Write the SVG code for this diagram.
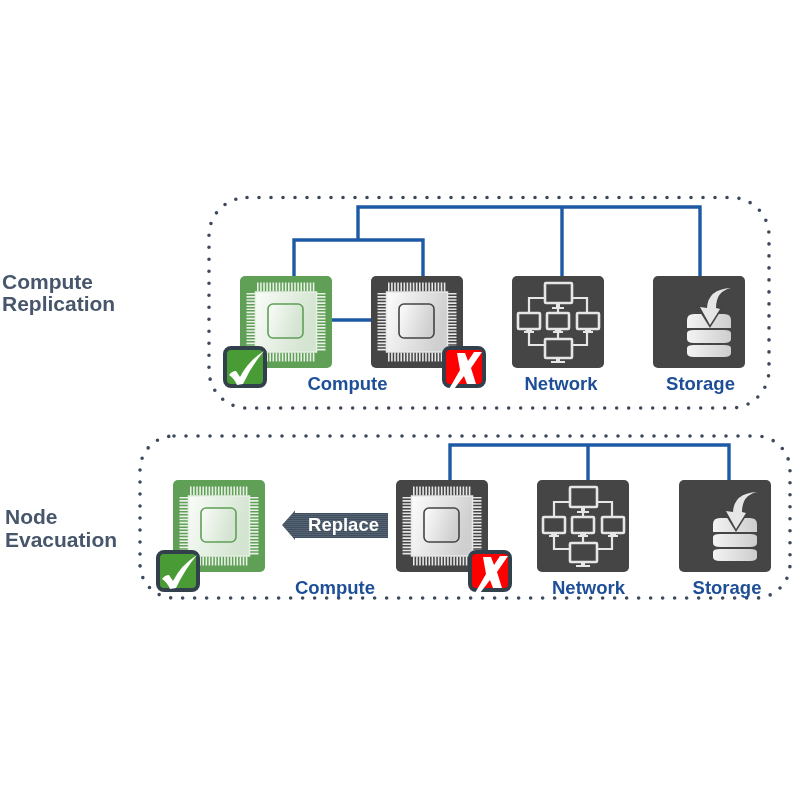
<svg xmlns="http://www.w3.org/2000/svg" width="800" height="800" viewBox="0 0 800 800">
<style>
.lbl{font-family:"Liberation Sans",Arial,sans-serif;font-weight:700;font-size:18.500px;fill:#1f4f97;text-anchor:middle}
.side{font-family:"Liberation Sans",Arial,sans-serif;font-weight:700;font-size:21px;fill:#46566a}
.link{fill:none;stroke:#1f5aa6;stroke-width:3.400}
.dots{fill:none;stroke:#3c4a5a;stroke-width:3.600;stroke-linecap:round;stroke-dasharray:0 12}
.pins{fill:none;stroke-width:9;stroke-dasharray:1.600 1.500}
.mon{fill:#444;stroke:#e6e6e6;stroke-width:2.600}
.wire{fill:none;stroke:#e6e6e6;stroke-width:2.200}
.stand{fill:#e6e6e6}
</style>
<defs>
<filter id="soft" x="0" y="0" width="800" height="800" filterUnits="userSpaceOnUse"><feGaussianBlur stdDeviation="0.450"/></filter>
<linearGradient id="dieG" x1="0" y1="0" x2="1" y2="0.3"><stop offset="0" stop-color="#fafcf9"/><stop offset="1" stop-color="#d3e4d0"/></linearGradient>
<linearGradient id="dieD" x1="0" y1="0" x2="1" y2="0.3"><stop offset="0" stop-color="#fdfdfd"/><stop offset="1" stop-color="#cfcfcf"/></linearGradient>
<linearGradient id="disc" x1="0" y1="0" x2="1" y2="0"><stop offset="0" stop-color="#f4f4f4"/><stop offset="1" stop-color="#cdcdcd"/></linearGradient>
<pattern id="stripe" width="4" height="2" patternUnits="userSpaceOnUse"><rect width="4" height="2" fill="#3f4f61"/><rect width="4" height="0.700" fill="#5e6b7a"/></pattern>
<g id="pinset">
<path class="pins" d="M17 11H75M17 81H75M11 17V75M81 17V75"/>
</g>
<g id="chipG">
<rect width="92" height="92" rx="5" fill="#5f9f57"/>
<use href="#pinset" stroke="#e9f1e6"/>
<rect x="15.500" y="16" width="61" height="60" fill="url(#dieG)" stroke="#e6efe3" stroke-width="1.500"/>
<rect x="28" y="28" width="35" height="34" rx="5" fill="url(#dieG)" stroke="#5f9f57" stroke-width="1.600"/>
</g>
<g id="chipD">
<rect width="92" height="92" rx="5" fill="#444"/>
<use href="#pinset" stroke="#e6e6e6"/>
<rect x="15.500" y="16" width="61" height="60" fill="url(#dieD)" stroke="#e8e8e8" stroke-width="1.500"/>
<rect x="28" y="28" width="35" height="34" rx="5" fill="url(#dieD)" stroke="#444" stroke-width="1.600"/>
</g>
<g id="okBadge">
<rect x="2" y="2" width="40" height="38" rx="6" fill="#4a9c35" stroke="#333f4c" stroke-width="4"/>
<path d="M6 29Q9 25 13 25L17 31Q25 15 41 5Q29 19 20 38L14 39Q11 32 6 29Z" fill="#fff"/>
</g>
<g id="noBadge">
<rect x="2" y="2" width="40" height="38" rx="6" fill="#f00" stroke="#333f4c" stroke-width="4"/>
<path d="M15 7H23L26 15L32 6H40L29 22L34 38H25L22 30L12 43H7L18 24Z" fill="#fff"/>
</g>
<g id="netIcon">
<rect width="92" height="92" rx="5" fill="#444"/>
<path class="wire" d="M33 22H17V37M60 22H75V37M17 57V69H33M75 57V69H60M46 32V37M46 57V63"/>
<rect class="mon" x="33" y="7" width="27" height="20" rx="1"/>
<rect class="mon" x="6" y="37" width="22" height="16" rx="1"/>
<rect class="mon" x="35" y="37" width="22" height="16" rx="1"/>
<rect class="mon" x="65" y="37" width="22" height="16" rx="1"/>
<rect class="mon" x="33" y="63" width="27" height="19" rx="1"/>
<path class="stand" d="M44 27H48V31H52V33H40V31H44ZM14 53H20V55H22V57H12V55H14ZM43 53H49V55H51V57H41V55H43ZM73 53H79V55H81V57H71V55H73ZM44 82H48V85H53V87H39V85H44Z"/>
</g>
<g id="storIcon">
<rect width="92" height="92" rx="5" fill="#444"/>
<path d="M34 44Q34 38 41 38H71Q78 38 78 44V52H34Z" fill="url(#disc)"/>
<path d="M34 57Q34 54 41 54H71Q78 54 78 57V63Q78 67 71 67H41Q34 67 34 63Z" fill="url(#disc)"/>
<path d="M34 72Q34 69 41 69H71Q78 69 78 72V77Q78 81 71 81H41Q34 81 34 77Z" fill="url(#disc)"/>
<path d="M42 28L57 52L72 28Z" fill="#444"/>
<path d="M78 12Q63 15 63 32L67 33L57 49L47 31L54 32Q55 13 78 12Z" fill="#e6e6e6"/>
</g>
</defs>

<g id="diagram" filter="url(#soft)">
<g id="connectors">
<rect class="dots" x="209" y="197.500" width="560" height="210.500" rx="38"/>
<rect class="dots" x="140" y="436" width="650" height="162" rx="34"/>
<path class="link" d="M358 240V207H700V276M562 207V276M294 276V240H423V276M332 320H371"/>
<path class="link" d="M450 480V445H729V480M588 445V480"/>
</g>

<g id="label-compute-replication"><text class="side" x="2" y="289">Compute</text><text class="side" x="2" y="311">Replication</text></g>
<g id="label-node-evacuation"><text class="side" x="5" y="524">Node</text><text class="side" x="5" y="547">Evacuation</text></g>

<g id="top-compute-active"><use href="#chipG" x="240" y="276"/><use href="#okBadge" x="223" y="346"/></g>
<g id="top-compute-failed"><use href="#chipD" x="371" y="276"/><use href="#noBadge" x="442" y="346"/></g>
<g id="top-compute-label"><text class="lbl" x="347.500" y="390">Compute</text></g>
<g id="top-network"><use href="#netIcon" x="512" y="276"/><text class="lbl" x="561" y="390">Network</text></g>
<g id="top-storage"><use href="#storIcon" x="653" y="276"/><text class="lbl" x="700.500" y="390">Storage</text></g>

<g id="bottom-compute-new"><use href="#chipG" x="173" y="480"/><use href="#okBadge" x="156" y="550"/></g>
<g id="replace-arrow">
<path d="M388 513H295V510.500L282 525L295 540V538H388Z" fill="url(#stripe)"/>
<text x="343.500" y="531" font-family="'Liberation Sans',Arial,sans-serif" font-weight="700" font-size="18.500" fill="#fff" text-anchor="middle">Replace</text>
</g>
<g id="bottom-compute-failed"><use href="#chipD" x="396" y="480"/><use href="#noBadge" x="468" y="550"/></g>
<g id="bottom-compute-label"><text class="lbl" x="335" y="594">Compute</text></g>
<g id="bottom-network"><use href="#netIcon" x="537" y="480"/><text class="lbl" x="588.500" y="594">Network</text></g>
<g id="bottom-storage"><use href="#storIcon" x="679" y="480"/><text class="lbl" x="727" y="594">Storage</text></g>
</g>
</svg>
